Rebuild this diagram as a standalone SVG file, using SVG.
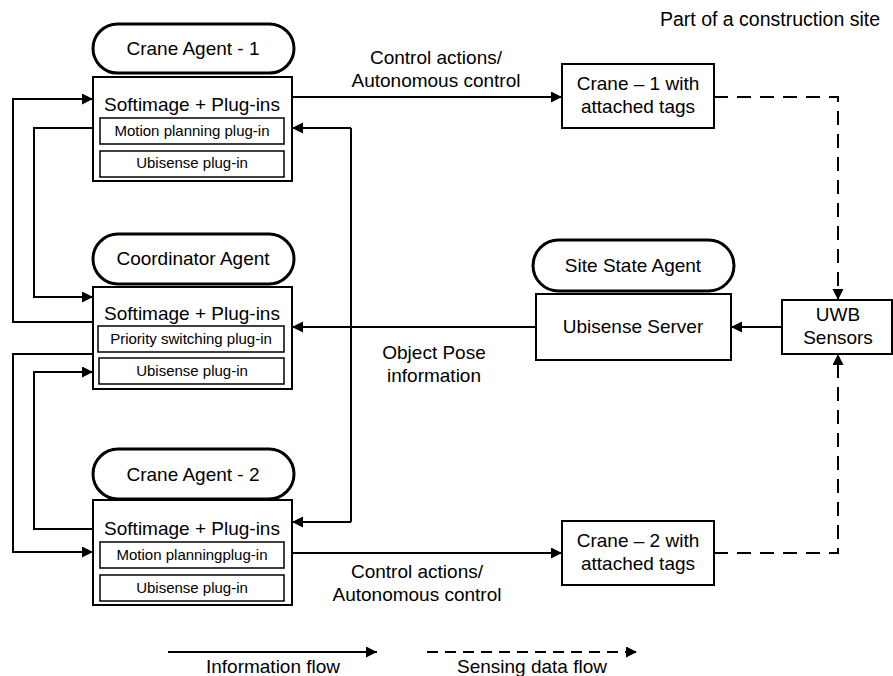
<svg xmlns="http://www.w3.org/2000/svg" width="893" height="676" viewBox="0 0 893 676">
<style>
text{font-family:"Liberation Sans",Arial,Helvetica,sans-serif;fill:#000;text-anchor:middle}
.t{font-size:19px}
.s{font-size:15px}
.pill{fill:#fff;stroke:#000;stroke-width:3}
.box{fill:#fff;stroke:#000;stroke-width:2}
.inner{fill:#fff;stroke:#000;stroke-width:1.5}
.ln{fill:none;stroke:#000;stroke-width:2}
.dash{fill:none;stroke:#000;stroke-width:2;stroke-dasharray:14 9}
</style>
<defs>
<marker id="ah" markerUnits="userSpaceOnUse" markerWidth="12" markerHeight="12" refX="11" refY="5.5" orient="auto">
<path d="M0,0 L11,5.5 L0,11 z" fill="#000"/>
</marker>
</defs>
<rect width="893" height="676" fill="#fff"/>

<g id="connectors">
<path class="ln" d="M93 322 H13 V99 H93" marker-end="url(#ah)"/>
<path class="ln" d="M93 128 H34 V297 H93" marker-end="url(#ah)"/>
<path class="ln" d="M93 354 H13 V552 H93" marker-end="url(#ah)"/>
<path class="ln" d="M93 529 H34 V372 H93" marker-end="url(#ah)"/>
<path class="ln" d="M536 327 H292" marker-end="url(#ah)"/>
<path class="ln" d="M351 128 V522"/>
<path class="ln" d="M351 128 H292" marker-end="url(#ah)"/>
<path class="ln" d="M351 522 H292" marker-end="url(#ah)"/>
<path class="ln" d="M292 97 H562" marker-end="url(#ah)"/>
<path class="ln" d="M292 553 H562" marker-end="url(#ah)"/>
<path class="ln" d="M782 327 H731" marker-end="url(#ah)"/>
<path class="dash" d="M714 97 H838 V300" marker-end="url(#ah)"/>
<path class="dash" d="M714 553 H838 V354" marker-end="url(#ah)"/>
<text class="t" x="436" y="64">Control actions/</text>
<text class="t" x="436" y="87">Autonomous control</text>
<text class="t" x="417" y="578">Control actions/</text>
<text class="t" x="417" y="601">Autonomous control</text>
<text class="t" x="434" y="359">Object Pose</text>
<text class="t" x="434" y="382">information</text>
</g>

<g id="crane-agent-1">
<rect class="pill" x="93" y="24" width="201" height="49" rx="24.5"/>
<text class="t" x="193" y="55">Crane Agent - 1</text>
<rect class="box" x="93" y="77" width="199" height="104"/>
<text class="t" x="192" y="111">Softimage + Plug-ins</text>
<rect class="inner" x="100" y="118" width="184" height="26"/>
<text class="s" x="192" y="136">Motion planning plug-in</text>
<rect class="inner" x="100" y="151" width="184" height="26"/>
<text class="s" x="192" y="168">Ubisense plug-in</text>
</g>

<g id="coordinator-agent">
<rect class="pill" x="93" y="234" width="201" height="50" rx="25"/>
<text class="t" x="193" y="265">Coordinator Agent</text>
<rect class="box" x="93" y="287" width="199" height="102"/>
<text class="t" x="192" y="320">Softimage + Plug-ins</text>
<rect class="inner" x="98" y="326" width="186" height="26"/>
<text class="s" x="191" y="344">Priority switching plug-in</text>
<rect class="inner" x="99" y="358" width="185" height="26"/>
<text class="s" x="192" y="376">Ubisense plug-in</text>
</g>

<g id="crane-agent-2">
<rect class="pill" x="93" y="449" width="201" height="50" rx="25"/>
<text class="t" x="193" y="481">Crane Agent - 2</text>
<rect class="box" x="93" y="500" width="199" height="105"/>
<text class="t" x="192" y="535">Softimage + Plug-ins</text>
<rect class="inner" x="100" y="542" width="184" height="26"/>
<text class="s" x="192" y="560">Motion planningplug-in</text>
<rect class="inner" x="100" y="575" width="184" height="26"/>
<text class="s" x="192" y="593">Ubisense plug-in</text>
</g>

<g id="site-state-agent">
<rect class="pill" x="533" y="240" width="201" height="51" rx="25.5"/>
<text class="t" x="633" y="272">Site State Agent</text>
<rect class="box" x="536" y="294" width="195" height="66"/>
<text class="t" x="633" y="333">Ubisense Server</text>
</g>

<g id="uwb-sensors">
<rect class="box" x="782" y="300" width="110" height="54"/>
<text class="t" x="838" y="321">UWB</text>
<text class="t" x="838" y="344">Sensors</text>
</g>

<g id="crane-1">
<rect class="box" x="562" y="64" width="152" height="64"/>
<text class="t" x="638" y="90">Crane – 1 with</text>
<text class="t" x="638" y="113">attached tags</text>
</g>

<g id="crane-2">
<rect class="box" x="562" y="521" width="152" height="64"/>
<text class="t" x="638" y="547">Crane – 2 with</text>
<text class="t" x="638" y="570">attached tags</text>
</g>

<g id="site-label">
<text x="770" y="26" style="font-size:19.5px">Part of a construction site</text>
</g>

<g id="legend">
<path class="ln" d="M168 652 H377" marker-end="url(#ah)"/>
<path class="dash" style="stroke-dasharray:11 7" d="M427 652 H637" marker-end="url(#ah)"/>
<text class="t" x="273" y="673">Information flow</text>
<text class="t" x="532" y="673">Sensing data flow</text>
</g>
</svg>
